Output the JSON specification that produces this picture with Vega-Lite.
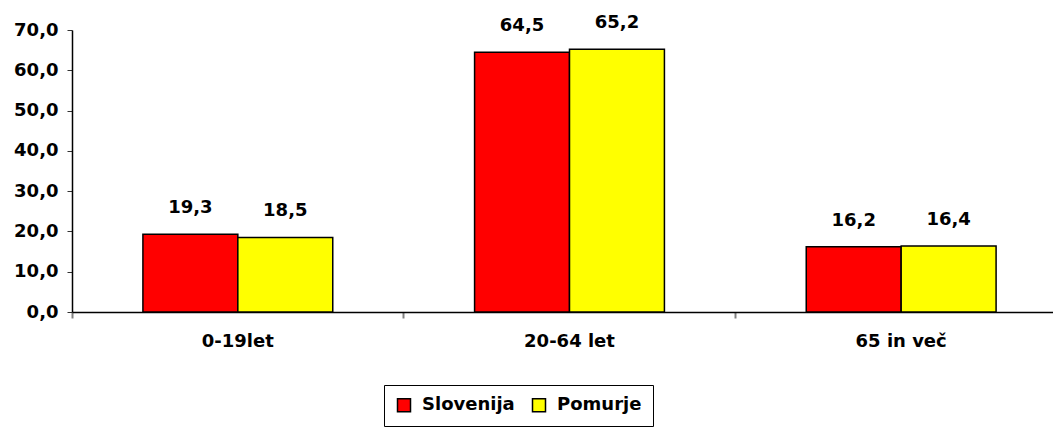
{
  "$schema": "https://vega.github.io/schema/vega-lite/v6.json",
  "autosize": {"type": "none"},
  "padding": {"left": 72, "top": 30, "right": 0, "bottom": 116},
  "width": 995,
  "height": 282,
  "background": "white",
  "config": {
    "view": {"stroke": null},
    "font": "DejaVu Sans",
    "locale": {
      "number": {"decimal": ",", "thousands": ".", "grouping": [3], "currency": ["", " €"]}
    }
  },
  "data": {
    "values": [
      {"group": "0-19let", "region": "Slovenija", "value": 19.3},
      {"group": "0-19let", "region": "Pomurje", "value": 18.5},
      {"group": "20-64 let", "region": "Slovenija", "value": 64.5},
      {"group": "20-64 let", "region": "Pomurje", "value": 65.2},
      {"group": "65 in več", "region": "Slovenija", "value": 16.2},
      {"group": "65 in več", "region": "Pomurje", "value": 16.4}
    ]
  },
  "encoding": {
    "x": {
      "field": "group", "type": "nominal", "sort": null,
      "scale": {"paddingInner": 0, "paddingOuter": 0},
      "axis": {
        "title": null, "labelAngle": 0, "labelFont": "DejaVu Sans",
        "labelFontSize": 18, "labelFontWeight": "bold", "labelColor": "black",
        "labelPadding": 14, "bandPosition": 0, "tickSize": 6, "tickColor": "#808080",
        "tickWidth": 2,
        "domainColor": "black", "domainWidth": 1.5
      }
    },
    "xOffset": {"field": "region", "type": "nominal", "sort": ["Slovenija", "Pomurje"], "scale": {"paddingInner": 0, "paddingOuter": 0.747}},
    "y": {
      "field": "value", "type": "quantitative",
      "scale": {"domain": [0, 70], "nice": false},
      "axis": {
        "title": null, "values": [0, 10, 20, 30, 40, 50, 60, 70],
        "format": ".1f",
        "labelFont": "DejaVu Sans", "labelFontSize": 18, "labelFontWeight": "bold",
        "labelColor": "black", "labelPadding": 9, "tickSize": 5, "tickColor": "#333333",
        "domainColor": "black", "domainWidth": 1.5, "grid": false
      }
    }
  },
  "layer": [
    {
      "mark": {"type": "bar", "stroke": "black", "strokeWidth": 1.5},
      "encoding": {
        "color": {
          "field": "region", "type": "nominal",
          "scale": {"domain": ["Slovenija", "Pomurje"], "range": ["#FF0000", "#FFFF00"]},
          "legend": {
            "title": null, "orient": "none", "direction": "horizontal",
            "legendX": 312, "legendY": 355,
            "strokeColor": "black", "padding": 11,
            "symbolType": "square", "symbolSize": 169, "symbolStrokeColor": "black",
            "symbolStrokeWidth": 1.5,
            "labelFont": "DejaVu Sans", "labelFontSize": 18, "labelFontWeight": "bold",
            "labelColor": "black", "labelOffset": 9, "columnPadding": 14
          }
        }
      }
    },
    {
      "mark": {"type": "text", "dy": -21, "baseline": "alphabetic", "font": "DejaVu Sans", "fontSize": 18, "fontWeight": "bold", "color": "black"},
      "encoding": {
        "text": {"field": "value", "type": "quantitative", "format": ".1f"}
      }
    }
  ]
}
